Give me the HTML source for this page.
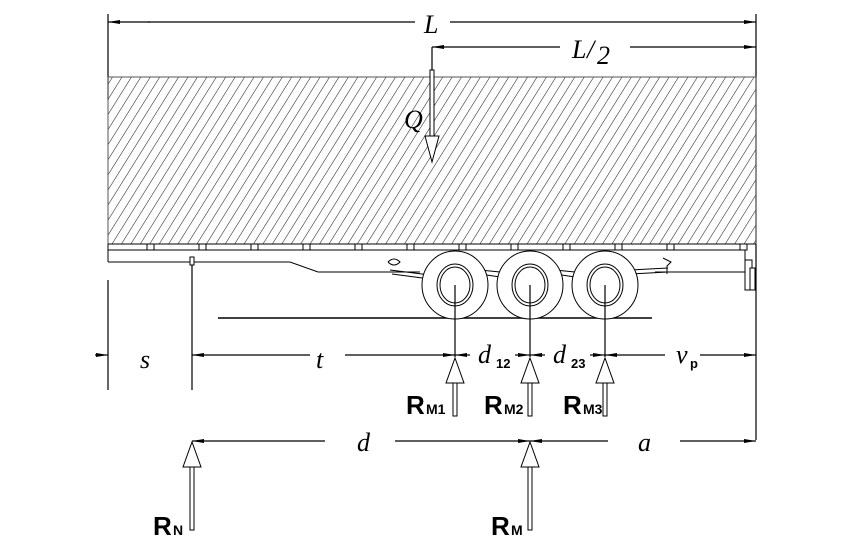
<!DOCTYPE html>
<html><head><meta charset="utf-8"><style>
html,body{margin:0;padding:0;background:#fff;}
svg{display:block;}
.it{font-family:"Liberation Serif",serif;font-style:italic;font-size:26px;}
.b{font-family:"Liberation Sans",sans-serif;font-weight:bold;}
</style></head><body>
<svg width="846" height="546" viewBox="0 0 846 546" xmlns="http://www.w3.org/2000/svg">
<defs>
<pattern id="h" width="8" height="8" patternUnits="userSpaceOnUse" patternTransform="rotate(32)">
<line x1="0" y1="0" x2="0" y2="8" stroke="#222" stroke-width="1.1"/>
</pattern>
<marker id="ar" markerWidth="12" markerHeight="6" refX="12" refY="3" orient="auto" markerUnits="userSpaceOnUse">
<path d="M0,1 L12,3 L0,5 z" fill="#000"/>
</marker>
</defs>
<g stroke="#000" stroke-width="1.2" fill="none">
<line x1="108" y1="14" x2="108" y2="100"/>
<line x1="756" y1="14" x2="756" y2="440"/>
<line x1="108" y1="280" x2="108" y2="390"/>
<line x1="192" y1="262" x2="192" y2="390"/>
<line x1="150" y1="22" x2="108" y2="22" marker-end="url(#ar)"/>
<line x1="148" y1="22" x2="415" y2="22"/>
<line x1="450" y1="22" x2="756" y2="22" marker-end="url(#ar)"/>
<line x1="560" y1="47" x2="432" y2="47" marker-end="url(#ar)"/>
<line x1="630" y1="47" x2="756" y2="47" marker-end="url(#ar)"/>
<line x1="432" y1="47" x2="432" y2="72"/>
</g>
<rect x="108" y="77" width="648" height="167" fill="url(#h)" stroke="#555" stroke-width="1"/>
<rect x="430" y="70" width="4" height="66" fill="#fff" stroke="#000" stroke-width="1"/>
<path d="M425,136 L439,136 L432,162 z" fill="#fff" stroke="#000" stroke-width="1"/>
<text x="404" y="128" class="it">Q</text>
<text x="424" y="33" class="it">L</text>
<text x="572" y="58" class="it">L</text><text x="587" y="58" class="it" font-size="22">/</text><text x="597" y="64" class="it">2</text>
<g stroke="#000" stroke-width="1" fill="none">
<line x1="108" y1="244" x2="756" y2="244"/>
<line x1="108" y1="250" x2="745" y2="250"/>
<line x1="108" y1="244" x2="108" y2="262"/>
<path d="M108,262 L290,262 L318,272 L420,272"/>
<line x1="655" y1="272" x2="745" y2="272"/>
<line x1="745" y1="250" x2="745" y2="285"/>
<rect x="745" y="260" width="7" height="30" fill="#fff"/>
<rect x="750" y="268" width="5" height="22" fill="#fff"/>
<rect x="190" y="257" width="4" height="8" fill="#fff"/>
<line x1="218" y1="318" x2="652" y2="318" stroke-width="1.4"/>
</g>
<g fill="#fff" stroke="#000" stroke-width="1">
<rect x="147" y="244" width="7" height="6"/><rect x="199" y="244" width="7" height="6"/>
<rect x="251" y="244" width="7" height="6"/><rect x="303" y="244" width="7" height="6"/>
<rect x="355" y="244" width="7" height="6"/><rect x="407" y="244" width="7" height="6"/>
<rect x="459" y="244" width="7" height="6"/><rect x="511" y="244" width="7" height="6"/>
<rect x="563" y="244" width="7" height="6"/><rect x="615" y="244" width="7" height="6"/>
<rect x="667" y="244" width="7" height="6"/><rect x="740" y="244" width="7" height="6"/>
</g>
<g stroke="#000" stroke-width="1" fill="none">
<path d="M390,270 L430,275 M392,274 L430,279 M480,270 L500,272 M480,274 L500,277 M555,270 L575,272 M555,274 L575,277 M630,270 L668,268 M630,274 L668,272"/>
<path d="M388,262 q6,-6 12,0 q-6,6 -12,0"/>
<path d="M663,258 l8,4 l-4,4 l0,8"/>
</g>
<g fill="#fff" stroke="#000" stroke-width="1">
<ellipse cx="455" cy="285" rx="33" ry="34"/><ellipse cx="455" cy="285" rx="18" ry="21"/><ellipse cx="455" cy="285" rx="15" ry="18"/>
<ellipse cx="530" cy="285" rx="33" ry="34"/><ellipse cx="530" cy="285" rx="18" ry="21"/><ellipse cx="530" cy="285" rx="15" ry="18"/>
<ellipse cx="605" cy="285" rx="33" ry="34"/><ellipse cx="605" cy="285" rx="18" ry="21"/><ellipse cx="605" cy="285" rx="15" ry="18"/>
</g>
<g stroke="#000" stroke-width="1.2" fill="none">
<line x1="455" y1="285" x2="455" y2="357"/>
<line x1="530" y1="285" x2="530" y2="357"/>
<line x1="605" y1="285" x2="605" y2="357"/>
<line x1="95" y1="355" x2="108" y2="355" marker-end="url(#ar)"/>
<line x1="310" y1="355" x2="192" y2="355" marker-end="url(#ar)"/>
<line x1="345" y1="355" x2="455" y2="355" marker-end="url(#ar)"/>
<line x1="470" y1="355" x2="455" y2="355" marker-end="url(#ar)"/>
<line x1="515" y1="355" x2="530" y2="355" marker-end="url(#ar)"/>
<line x1="545" y1="355" x2="530" y2="355" marker-end="url(#ar)"/>
<line x1="590" y1="355" x2="605" y2="355" marker-end="url(#ar)"/>
<line x1="665" y1="355" x2="605" y2="355" marker-end="url(#ar)"/>
<line x1="700" y1="355" x2="756" y2="355" marker-end="url(#ar)"/>
<line x1="325" y1="441" x2="192" y2="441" marker-end="url(#ar)"/>
<line x1="395" y1="441" x2="530" y2="441" marker-end="url(#ar)"/>
<line x1="608" y1="441" x2="530" y2="441" marker-end="url(#ar)"/>
<line x1="680" y1="441" x2="756" y2="441" marker-end="url(#ar)"/>
</g>
<g fill="#fff" stroke="#000" stroke-width="1">
<rect x="453" y="382" width="4" height="34"/><path d="M446,383 L464,383 L455,358 z"/>
<rect x="528" y="382" width="4" height="34"/><path d="M521,383 L539,383 L530,358 z"/>
<rect x="603" y="382" width="4" height="34"/><path d="M596,383 L614,383 L605,358 z"/>
<rect x="190" y="466" width="4" height="64"/><path d="M183,467 L201,467 L192,442 z"/>
<rect x="528" y="466" width="4" height="64"/><path d="M521,467 L539,467 L530,442 z"/>
</g>
<text x="140" y="368" class="it">s</text>
<text x="316" y="368" class="it">t</text>
<text x="478" y="363" class="it">d</text><text x="496" y="368" class="b" font-size="13">12</text>
<text x="553" y="363" class="it">d</text><text x="571" y="368" class="b" font-size="13">23</text>
<text x="676" y="363" class="it">v</text><text x="690" y="368" class="b" font-size="13">p</text>
<text x="357" y="451" class="it">d</text>
<text x="638" y="451" class="it">a</text>
<text x="406" y="414" class="b" font-size="26">R</text><text x="426" y="414" class="b" font-size="14">M1</text>
<text x="484" y="414" class="b" font-size="26">R</text><text x="504" y="414" class="b" font-size="14">M2</text>
<text x="563" y="414" class="b" font-size="26">R</text><text x="583" y="414" class="b" font-size="14">M3</text>
<text x="153" y="535" class="b" font-size="26">R</text><text x="173" y="535" class="b" font-size="14">N</text>
<text x="491" y="535" class="b" font-size="26">R</text><text x="511" y="535" class="b" font-size="14">M</text>
</svg>
</body></html>
